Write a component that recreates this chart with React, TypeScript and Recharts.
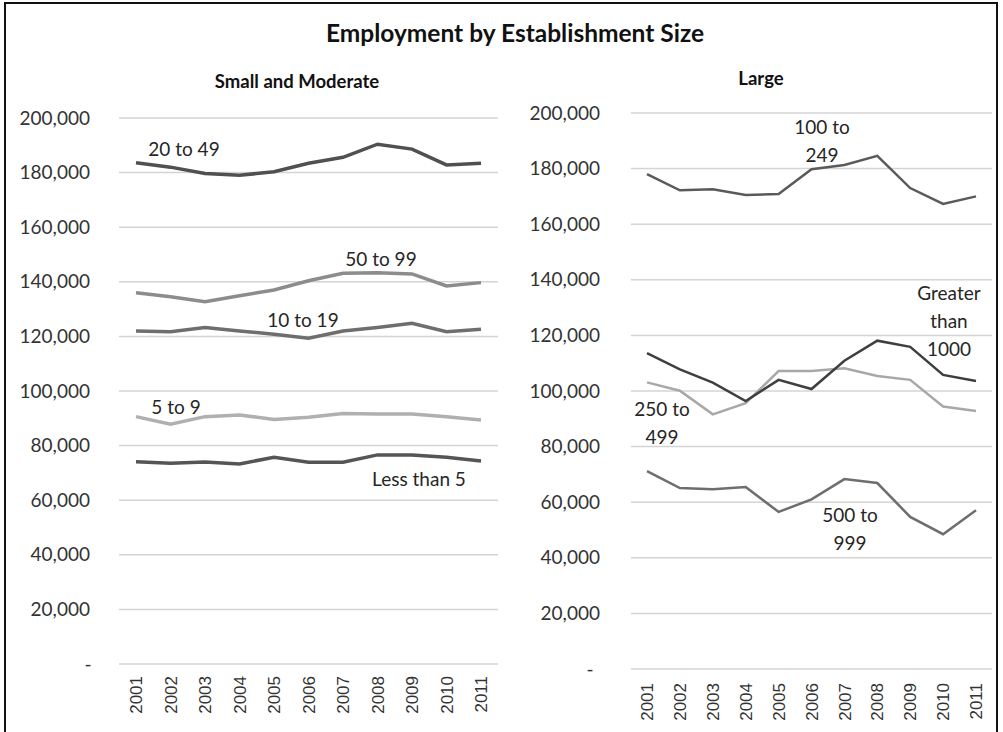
import React from 'react';
import { LineChart, Line, XAxis, YAxis, CartesianGrid } from 'recharts';

const years = ['2001', '2002', '2003', '2004', '2005', '2006', '2007', '2008', '2009', '2010', '2011'];

// Small and Moderate
const lessThan5 = [74100, 73500, 74000, 73300, 75700, 73900, 73900, 76600, 76600, 75700, 74400];
const from5to9 = [90600, 87800, 90600, 91200, 89600, 90400, 91800, 91600, 91600, 90600, 89400];
const from10to19 = [122000, 121700, 123300, 122000, 120800, 119300, 122000, 123300, 124800, 121700, 122600];
const from20to49 = [183600, 182000, 179700, 179000, 180300, 183400, 185600, 190400, 188600, 182800, 183400];
const from50to99 = [136000, 134500, 132700, 134900, 137000, 140400, 143100, 143300, 142900, 138500, 139700];

// Large
const from100to249 = [178000, 172200, 172600, 170500, 170900, 179800, 181300, 184600, 173000, 167300, 170000];
const from250to499 = [103100, 100100, 91600, 95600, 107200, 107200, 108200, 105400, 104000, 94400, 92800];
const from500to999 = [71200, 65100, 64700, 65500, 56500, 61000, 68300, 66900, 54700, 48500, 57100];
const greaterThan1000 = [113600, 107800, 103000, 96400, 104000, 100700, 110900, 118100, 115900, 105800, 103600];

const yTicks = [0, 20000, 40000, 60000, 80000, 100000, 120000, 140000, 160000, 180000, 200000];

const smallData = years.map((y, i) => ({
  year: y,
  lt5: lessThan5[i],
  s5: from5to9[i],
  s10: from10to19[i],
  s20: from20to49[i],
  s50: from50to99[i],
}));

const largeData = years.map((y, i) => ({
  year: y,
  l100: from100to249[i],
  l250: from250to499[i],
  l500: from500to999[i],
  l1000: greaterThan1000[i],
}));

const FONT = 'Lato, "Open Sans", sans-serif';

const YTick = (props: any) => {
  const { x, y, payload, zeroDx } = props;
  const v = payload.value as number;
  if (v === 0) {
    return (
      <text x={x + zeroDx} y={y} dy="0.35em" textAnchor="middle" fontFamily={FONT} fontSize={19} fill="#333">
        -
      </text>
    );
  }
  return (
    <text x={x} y={y} dy="0.35em" textAnchor="end" fontFamily={FONT} fontSize={19} fill="#333">
      {v.toLocaleString('en-US')}
    </text>
  );
};

const XTick = (props: any) => {
  const { x, y, payload } = props;
  return (
    <g transform={`translate(${x},${y})`}>
      <text transform="rotate(-90)" textAnchor="end" dy="0.36em" fontFamily='"Liberation Sans", Arial, sans-serif' fontSize={17} fill="#333">
        {payload.value}
      </text>
    </g>
  );
};

const Note = ({ x, y, lines }: { x: number; y: number; lines: string[] }) => (
  <div
    style={{
      position: 'absolute',
      left: x - 80,
      top: y - 14,
      width: 160,
      textAlign: 'center',
      fontFamily: FONT,
      fontSize: 19,
      lineHeight: '28px',
      color: '#262626',
      whiteSpace: 'nowrap',
    }}
  >
    {lines.map((l, i) => (
      <div key={i}>{l}</div>
    ))}
  </div>
);

export default function App() {
  return (
    <div style={{ position: 'absolute', left: 0, top: 0, width: 1003, height: 732, background: '#fff', overflow: 'hidden' }}>
      <div
        style={{
          position: 'absolute',
          left: 4,
          top: 2,
          width: 994,
          height: 760,
          border: '2px solid #111',
          boxSizing: 'border-box',
        }}
      />
      <div
        style={{
          position: 'absolute',
          left: 0,
          top: 18,
          width: 1030,
          textAlign: 'center',
          fontFamily: FONT,
          fontWeight: 700,
          fontSize: 24.5,
          color: '#111',
        }}
      >
        Employment by Establishment Size
      </div>
      <div
        style={{
          position: 'absolute',
          left: 197,
          top: 70,
          width: 200,
          textAlign: 'center',
          fontFamily: FONT,
          fontWeight: 700,
          fontSize: 18.5,
          color: '#111',
        }}
      >
        Small and Moderate
      </div>
      <div
        style={{
          position: 'absolute',
          left: 661,
          top: 67,
          width: 200,
          textAlign: 'center',
          fontFamily: FONT,
          fontWeight: 700,
          fontSize: 18.5,
          color: '#111',
        }}
      >
        Large
      </div>

      <div style={{ position: 'absolute', left: 0, top: 0 }}>
        <LineChart width={510} height={732} data={smallData} margin={{ top: 118, right: 12, left: 0, bottom: 0 }}>
          <CartesianGrid vertical={false} stroke="#d4d4d4" strokeWidth={1.5} />
          <XAxis
            dataKey="year"
            height={68}
            axisLine={false}
            tickLine={false}
            tick={<XTick />}
            tickSize={0}
            tickMargin={12}
            interval={0}
            padding={{ left: 17, right: 17 }}
          />
          <YAxis
            width={119}
            domain={[0, 200000]}
            ticks={yTicks}
            axisLine={false}
            tickLine={false}
            tickSize={0}
            tickMargin={29}
            tick={<YTick zeroDx={-2} />}
            interval={0}
          />
          <Line dataKey="s20" stroke="#505050" strokeWidth={3.5} dot={false} isAnimationActive={false} />
          <Line dataKey="s50" stroke="#8c8c8c" strokeWidth={3.5} dot={false} isAnimationActive={false} />
          <Line dataKey="s10" stroke="#6e6e6e" strokeWidth={3.5} dot={false} isAnimationActive={false} />
          <Line dataKey="s5" stroke="#b0b0b0" strokeWidth={3.5} dot={false} isAnimationActive={false} />
          <Line dataKey="lt5" stroke="#555555" strokeWidth={3.5} dot={false} isAnimationActive={false} />
        </LineChart>
      </div>

      <div style={{ position: 'absolute', left: 0, top: 0 }}>
        <LineChart width={1003} height={732} data={largeData} margin={{ top: 113, right: 11, left: 520, bottom: 0 }}>
          <CartesianGrid vertical={false} stroke="#d4d4d4" strokeWidth={1.5} />
          <XAxis
            dataKey="year"
            height={63}
            axisLine={false}
            tickLine={false}
            tick={<XTick />}
            tickSize={0}
            tickMargin={14}
            interval={0}
            padding={{ left: 16, right: 16 }}
          />
          <YAxis
            width={111}
            domain={[0, 200000]}
            ticks={yTicks}
            axisLine={false}
            tickLine={false}
            tickSize={0}
            tickMargin={31}
            tick={<YTick zeroDx={-10} />}
            interval={0}
          />
          <Line dataKey="l100" stroke="#5a5a5a" strokeWidth={2.5} dot={false} isAnimationActive={false} />
          <Line dataKey="l250" stroke="#a8a8a8" strokeWidth={2.5} dot={false} isAnimationActive={false} />
          <Line dataKey="l1000" stroke="#3f3f3f" strokeWidth={2.5} dot={false} isAnimationActive={false} />
          <Line dataKey="l500" stroke="#6e6e6e" strokeWidth={2.5} dot={false} isAnimationActive={false} />
        </LineChart>
      </div>

      <Note x={184} y={149} lines={['20 to 49']} />
      <Note x={381} y={259} lines={['50 to 99']} />
      <Note x={303} y={320} lines={['10 to 19']} />
      <Note x={176} y={407} lines={['5 to 9']} />
      <Note x={419} y={479} lines={['Less than 5']} />
      <Note x={822} y={127} lines={['100 to', '249']} />
      <Note x={949} y={293} lines={['Greater', 'than', '1000']} />
      <Note x={662} y={409} lines={['250 to', '499']} />
      <Note x={850} y={515} lines={['500 to', '999']} />
    </div>
  );
}
